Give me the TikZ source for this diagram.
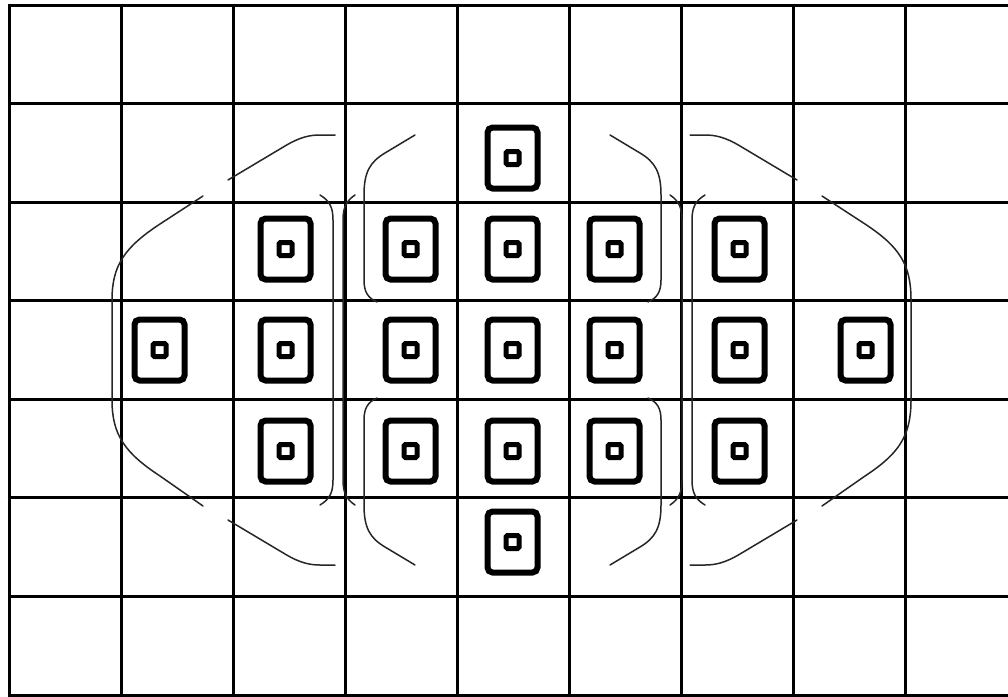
\documentclass[tikz,border=0pt]{standalone}
\begin{document}
\begin{tikzpicture}[x=1pt,y=-1pt,
  gridline/.style={line width=3pt,black},
  afpoint/.style={draw,line width=6pt,rounded corners=5pt,minimum width=50pt,minimum height=61pt,inner sep=0pt,outer sep=0pt},
  afcore/.style={draw,line width=5pt,rounded corners=1.5pt,minimum size=13pt,inner sep=0pt},
  zone/.style={line width=1.5pt,black!85,line cap=round}]
\useasboundingbox (0,0) rectangle (1008,696);
\clip (0,0) rectangle (1008,696);
\fill[white] (0,0) rectangle (1008,696);
% grid
\foreach \i in {0,...,8} \draw[gridline] (9+112*\i,3.5) -- (9+112*\i,700);
\foreach \j in {0,...,7} \draw[gridline] (7.5,5+98.57*\j) -- (1010,5+98.57*\j);
% AF points
\foreach \n/\x/\y in {1/512.5/158, 2/285.5/249, 3/410.5/249, 4/512.5/249, 5/614.5/249, 6/739.5/249,
  7/159.5/350, 8/285.5/350, 9/410.5/350, 10/512.5/350, 11/614.5/350, 12/739.5/350, 13/865.5/350,
  14/285.5/451, 15/410.5/451, 16/512.5/451, 17/614.5/451, 18/739.5/451, 19/512.5/542} {
  \node[afpoint] (p\n) at (\x,\y) {};
  \node[afcore] (c\n) at (p\n) {};
}
% outer left zone
\draw[zone] (203,196) -- (160,224) .. controls (125,247) and (112,265) .. (112,300) -- (112,400)
  .. controls (112,435) and (125,453) .. (160,476) -- (203,506);
\draw[zone] (228,180) -- (285,146) .. controls (300,137) and (310,135) .. (320,135) -- (335,135);
\draw[zone] (228,520) -- (285,554) .. controls (300,563) and (310,565) .. (320,565) -- (335,565);
\draw[zone] (320,195) .. controls (330,201) and (333,208) .. (333,220) -- (333,480)
  .. controls (333,492) and (330,499) .. (320,505);
% outer right zone
\draw[zone] (822,196) -- (865,224) .. controls (900,247) and (911,265) .. (911,300) -- (911,400)
  .. controls (911,435) and (900,453) .. (865,476) -- (822,506);
\draw[zone] (797,180) -- (740,146) .. controls (725,137) and (715,135) .. (705,135) -- (690,135);
\draw[zone] (797,520) -- (740,554) .. controls (725,563) and (715,565) .. (705,565) -- (690,565);
\draw[zone] (705,195) .. controls (695,201) and (692,208) .. (692,220) -- (692,480)
  .. controls (692,492) and (695,499) .. (705,505);
% middle zone
\draw[zone] (355,195) .. controls (346,201) and (343,208) .. (343,220) -- (343,480)
  .. controls (343,492) and (346,499) .. (355,505);
\draw[zone] (670,195) .. controls (679,201) and (682,208) .. (682,220) -- (682,480)
  .. controls (682,492) and (679,499) .. (670,505);
% top zone
\draw[zone] (415,135) -- (385,153) .. controls (370,162) and (364,172) .. (364,195) -- (364,280)
  .. controls (364,292) and (368,298) .. (377,302);
\draw[zone] (610,135) -- (640,153) .. controls (655,162) and (661,172) .. (661,195) -- (661,280)
  .. controls (661,292) and (657,298) .. (648,302);
% bottom zone
\draw[zone] (377,398) .. controls (368,402) and (364,408) .. (364,420) -- (364,505)
  .. controls (364,528) and (370,538) .. (385,547) -- (415,565);
\draw[zone] (648,398) .. controls (657,402) and (661,408) .. (661,420) -- (661,505)
  .. controls (661,528) and (655,538) .. (640,547) -- (610,565);
\end{tikzpicture}
\end{document}
